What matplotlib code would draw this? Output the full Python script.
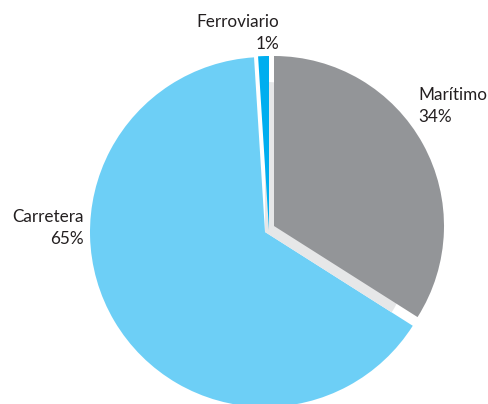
import numpy as np
import matplotlib.pyplot as plt
from matplotlib.patches import Wedge

# transport mode share
labels = ["Marítimo", "Carretera", "Ferroviario"]
shares = [34, 65, 1]
colors = ["#939598", "#6dcff6", "#00aeef"]

# slice geometry (pixels, y up): centre, radius
centers = [(274, 178), (265, 172), (269, 174)]
radii = [170, 175, 174]
side_color = "#e6e7e8"

# start at 12 o'clock, go clockwise
bounds = 90 - 3.6 * np.concatenate([[0], np.cumsum(shares)])

fig = plt.figure(figsize=(4.89, 4.04), dpi=100)
ax = fig.add_axes([0, 0, 1, 1])
ax.set_xlim(0, 489)
ax.set_ylim(0, 404)
ax.set_aspect("equal")
ax.axis("off")

def wedge(i, center, r, color, z):
    ax.add_patch(Wedge(center, r, bounds[i + 1], bounds[i],
                       facecolor=color, edgecolor="none", zorder=z))

# road first, then the raised sea slice with its lighter side
wedge(1, centers[1], radii[1], colors[1], 1)
wedge(0, centers[1], 150, side_color, 2)
wedge(2, centers[2], radii[2], colors[2], 3)
wedge(0, centers[0], radii[0], colors[0], 4)

txt = dict(fontsize=12.3, color="#231f20", family="Lato", linespacing=1.5)
ax.text(418, 404 - 106, f"{labels[0]}\n{shares[0]}%", ha="left", va="center",
        **txt)
ax.text(84, 404 - 228, f"{labels[1]}\n{shares[1]}%", ha="right", va="center",
        multialignment="right", **txt)
ax.text(279, 404 - 33, f"{labels[2]}\n{shares[2]}%", ha="right", va="center",
        multialignment="right", **txt)

fig.savefig("out.png", dpi=100)
